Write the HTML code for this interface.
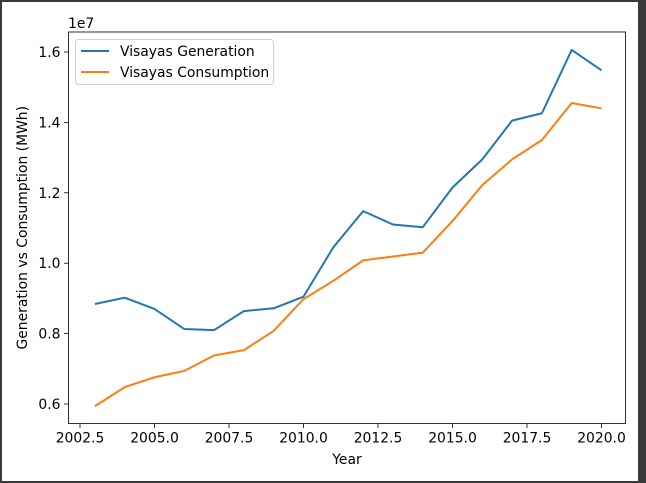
<!DOCTYPE html>
<html><head><meta charset="utf-8"><style>
body{margin:0;background:#fff;}
svg{display:block;font-family:"DejaVu Sans","Liberation Sans",sans-serif;}
</style></head><body>
<svg id="chart" width="646" height="483">
<rect x="0" y="0" width="646" height="483" fill="#fff"/>
<rect x="0" y="0" width="646" height="2" fill="#3a3a3a"/>
<rect x="0" y="0" width="2" height="483" fill="#3a3a3a"/>
<rect x="638" y="0" width="8" height="483" fill="#3a3a3a"/>
<rect x="0" y="481" width="646" height="2" fill="#3a3a3a"/>
<g id="plot"></g>
</svg>
<script>
const years=[2003,2004,2005,2006,2007,2008,2009,2010,2011,2012,2013,2014,2015,2016,2017,2018,2019,2020];
const generation=[0.884,0.902,0.870,0.813,0.810,0.864,0.872,0.905,1.045,1.148,1.110,1.102,1.215,1.295,1.405,1.426,1.606,1.548];
const consumption=[0.594,0.648,0.676,0.694,0.738,0.753,0.808,0.898,0.950,1.008,1.019,1.030,1.120,1.222,1.295,1.350,1.455,1.440];
const xTicks=[2002.5,2005.0,2007.5,2010.0,2012.5,2015.0,2017.5,2020.0];
const yTicks=[0.6,0.8,1.0,1.2,1.4,1.6];
const L=68.5,R=625.5,T=32,B=423.5;
const FS=13.9;
const x=v=>80+(v-2002.5)*29.8;
const y=v=>404-(v-0.6)*352;
const NS="http://www.w3.org/2000/svg";
const g=document.getElementById('plot');
function mk(t,a,txt){const e=document.createElementNS(NS,t);for(const k in a)e.setAttribute(k,a[k]);if(txt!==undefined)e.textContent=txt;g.appendChild(e);return e;}
xTicks.forEach(v=>{
 const l=mk('line',{x1:x(v),x2:x(v),y1:B,y2:B+4.5,stroke:'#000','stroke-width':0.8});
 
 
 const t=mk('text',{x:x(v),y:B+19,'text-anchor':'middle','font-size':FS,fill:'#000'},v.toFixed(1));
 
 
});
yTicks.forEach(v=>{
 const l=mk('line',{x1:L-4.5,x2:L,y1:y(v),y2:y(v),stroke:'#000','stroke-width':0.8});
 
 
 const t=mk('text',{x:L-8,y:y(v)+5,'text-anchor':'end','font-size':FS,fill:'#000'},v.toFixed(1));
 
 
});
function line(data,color,name){
 const p=mk('polyline',{points:data.map((d,i)=>x(years[i])+','+y(d)).join(' '),fill:'none',stroke:color,'stroke-width':2,'stroke-linejoin':'round'});
 
 
}
line(generation,'#1f77b4','generation-line');
line(consumption,'#ff7f0e','consumption-line');
const ax=mk('rect',{x:L,y:T,width:R-L,height:B-T,fill:'none',stroke:'#000','stroke-width':0.8});


const ex=mk('text',{x:68,y:28,'font-size':FS,fill:'#000'},'1e7');


const xt=mk('text',{x:(L+R)/2,y:464,'text-anchor':'middle','font-size':FS,fill:'#000'},'Year');


const yt=mk('text',{x:27,y:(T+B)/2,'text-anchor':'middle','font-size':FS,fill:'#000',transform:'rotate(-90 27 '+((T+B)/2)+')'},'Generation vs Consumption (MWh)');


const lg=mk('rect',{x:75.5,y:39.5,width:198,height:45,rx:3,fill:'#fff','fill-opacity':0.8,stroke:'#d0d0d0','stroke-width':1});


[['Visayas Generation','#1f77b4',51],['Visayas Consumption','#ff7f0e',72]].forEach(([n,c,yy])=>{
 const l=mk('line',{x1:81,x2:109,y1:yy,y2:yy,stroke:c,'stroke-width':2});
 
 
 const t=mk('text',{x:120,y:yy+5,'font-size':FS,fill:'#000'},n);
 
 
});
</script>
</body></html>
